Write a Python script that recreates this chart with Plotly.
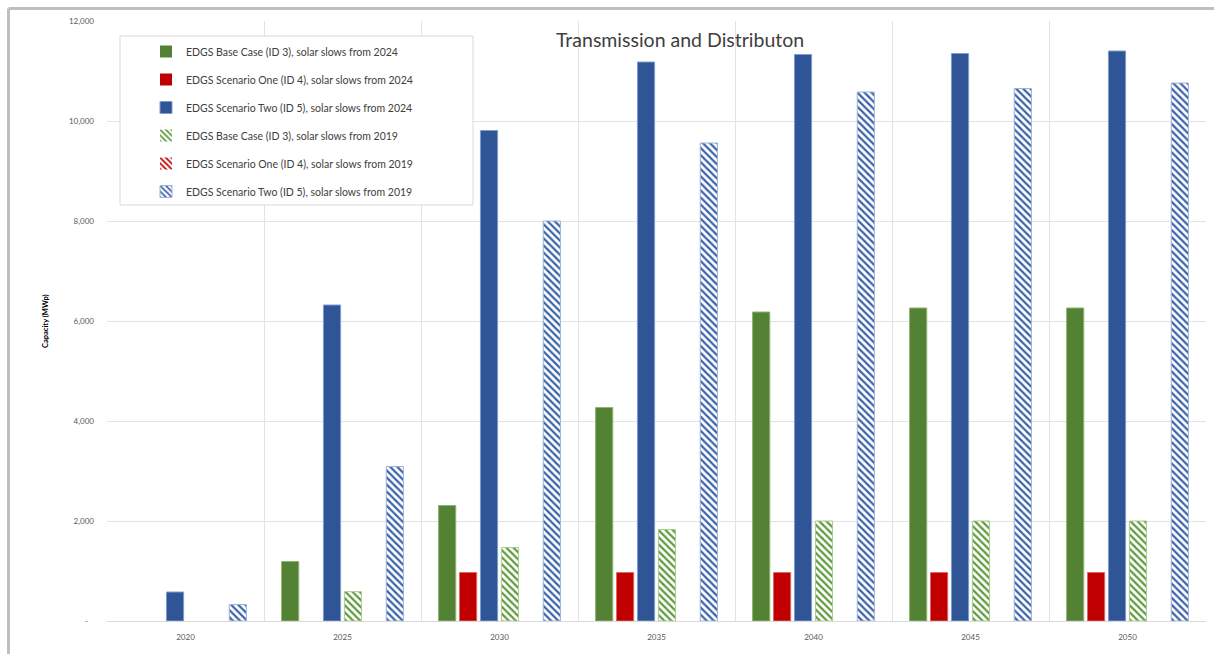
import plotly.graph_objects as go

# Category axis: milestone years
years = ["2020", "2025", "2030", "2035", "2040", "2045", "2050"]

# Installed capacity (MWp) per scenario
base_2024 = [0, 1190, 2310, 4270, 6180, 6260, 6260]
one_2024 = [0, 0, 970, 970, 970, 970, 970]
two_2024 = [580, 6320, 9810, 11180, 11330, 11350, 11400]
base_2019 = [0, 586, 1470, 1830, 2000, 2000, 2000]
one_2019 = [0, 0, 0, 0, 0, 0, 0]
two_2019 = [330, 3090, 8000, 9560, 10580, 10650, 10760]

series_names = [
    "EDGS Base Case (ID 3), solar slows from 2024",
    "EDGS Scenario One (ID 4), solar slows from 2024",
    "EDGS Scenario Two (ID 5), solar slows from 2024",
    "EDGS Base Case (ID 3), solar slows from 2019",
    "EDGS Scenario One (ID 4), solar slows from 2019",
    "EDGS Scenario Two (ID 5), solar slows from 2019",
]

y_tick_vals = [0, 2000, 4000, 6000, 8000, 10000, 12000]
y_tick_text = ["-\u00a0\u00a0\u00a0", "2,000", "4,000", "6,000", "8,000", "10,000", "12,000"]

FONT = "Lato, 'Open Sans', sans-serif"
GREEN = "#548235"
RED = "#C00000"
BLUE = "#2F5597"

fig = go.Figure()

solid = [(base_2024, GREEN, "#8DB36F"), (one_2024, RED, "#E06666"), (two_2024, BLUE, "#7F9CCF")]
hatched = [(base_2019, "#5E9A3C", "#A9CC8F"), (one_2019, RED, "#E06666"), (two_2019, "#3A62A8", "#9DB3DB")]

all_series = solid + hatched
for i, (vals, col, edge) in enumerate(all_series):
    # no outline on empty bars so they stay invisible
    widths = [1 if v else 0 for v in vals]
    marker = dict(color=col, line=dict(color=edge, width=widths))
    if i >= 3:
        marker["pattern"] = dict(shape="\\", fgcolor=col, bgcolor="white",
                                 size=5, solidity=0.45, fillmode="replace")
    fig.add_trace(go.Bar(
        x=years, y=vals, name=series_names[i], marker=marker,
        legendgroup=f"g{i}",
    ))

# Legend frame drawn behind the legend entries
fig.add_shape(type="rect", xref="paper", yref="paper",
              x0=(120 - 107) / 1099, x1=(473 - 107) / 1099,
              y0=(621 - 205) / 600, y1=(621 - 36) / 600,
              fillcolor="white", line=dict(color="#D9D9D9", width=1), layer="above")

# Outer chart frame (top and left edges)
fig.add_shape(type="line", xref="paper", yref="paper",
              x0=(8.5 - 107) / 1099, x1=(1214 - 107) / 1099,
              y0=(621 - 8.5) / 600, y1=(621 - 8.5) / 600,
              line=dict(color="#BFBFBF", width=3))
fig.add_shape(type="line", xref="paper", yref="paper",
              x0=(8.5 - 107) / 1099, x1=(8.5 - 107) / 1099,
              y0=(621 - 8.5) / 600, y1=(621 - 660) / 600,
              line=dict(color="#BFBFBF", width=3))

fig.add_annotation(text="Transmission and Distributon", xref="paper", yref="paper",
                   x=(680 - 107) / 1099, y=(621 - 40) / 600, showarrow=False,
                   xanchor="center", yanchor="middle",
                   font=dict(family=FONT, size=19.5, color="#404040"))
fig.add_annotation(text="<b>Capacity (MWp)</b>", xref="paper", yref="paper",
                   x=(45 - 107) / 1099, y=0.5, textangle=-90, showarrow=False,
                   xanchor="center", yanchor="middle",
                   font=dict(family=FONT, size=7.5, color="#000000"))

fig.update_layout(
    width=1214, height=654,
    margin=dict(l=107, r=8, t=21, b=33),
    paper_bgcolor="white", plot_bgcolor="white",
    barmode="group", bargap=0.2, bargroupgap=0.18,
    font=dict(family=FONT, size=8, color="#595959"),
    showlegend=True,
    legend=dict(x=(146 - 107) / 1099, y=(621 - 37) / 600, xanchor="left", yanchor="top",
                bgcolor="rgba(0,0,0,0)", borderwidth=0,
                traceorder="grouped", tracegroupgap=9,
                font=dict(family=FONT, size=10.5, color="#404040")),
)
fig.update_xaxes(type="category", tickson="boundaries", showgrid=True,
                 gridcolor="#E3E3E3", gridwidth=1, ticks="", showline=True,
                 linecolor="#D9D9D9", ticklabelstandoff=8,
                 tickfont=dict(family=FONT, size=8, color="#595959"))
fig.update_yaxes(range=[0, 12000], tickvals=y_tick_vals, ticktext=y_tick_text,
                 showgrid=True, gridcolor="#E3E3E3", gridwidth=1, zeroline=False,
                 ticks="", ticklabelstandoff=12,
                 tickfont=dict(family=FONT, size=8, color="#595959"))

fig.write_html("out.html")
